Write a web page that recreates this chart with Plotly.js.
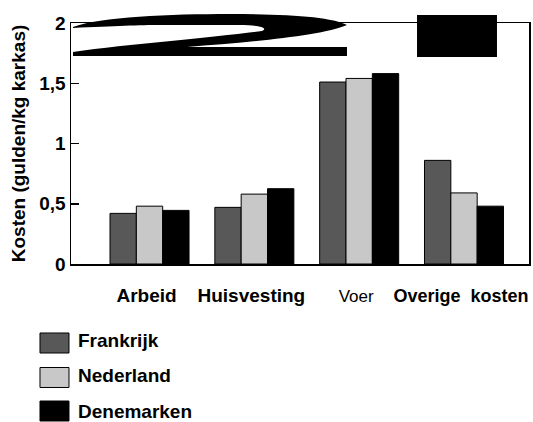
<!DOCTYPE html>
<html>
<head>
<meta charset="utf-8">
<script src="https://cdn.plot.ly/plotly-3.0.1.min.js"></script>
<style>html,body{margin:0;padding:0;background:#fff;}</style>
</head>
<body>
<div id="chart" style="width:533px;height:422px;"></div>
<script>
// ---- data ----
var categories = ['Arbeid', 'Huisvesting', 'Voer', 'Overige kosten'];
var tickLabels = ['<b>Arbeid</b>', '<b>Huisvesting</b>', '<span style="font-size:17px">Voer</span>', '<b><span style="font-size:18px">Overige\u00a0 kosten</span></b>'];
var seriesNames = ['Frankrijk', 'Nederland', 'Denemarken'];
var frankrijk = [0.42, 0.47, 1.51, 0.86];
var nederland = [0.48, 0.58, 1.54, 0.59];
var denemarken = [0.445, 0.625, 1.58, 0.48];
var yTicks = [0, 0.5, 1, 1.5, 2];

var colors = ['#585858', '#c8c8c8', '#000000'];
var FONT = 'Liberation Sans, Arial, sans-serif';

var W = 533, H = 422, ML = 71, MR = 4, MT = 23, MB = 158;
var PW = W - ML - MR, PH = H - MT - MB;
function px(x) { return +((x - ML) / PW).toFixed(4); }
function py(y) { return +((H - MB - y) / PH).toFixed(4); }
// convert a path written in page pixels into paper coordinates
function pathPx(cmds) {
  return cmds.map(function (c) {
    var s = c[0];
    for (var i = 1; i < c.length; i += 2) s += (i > 1 ? ' ' : '') + px(c[i]) + ',' + py(c[i + 1]);
    return s;
  }).join(' ');
}

var seriesVals = [frankrijk, nederland, denemarken];
var data = seriesVals.map(function (vals, i) {
  return {
    type: 'bar', x: categories, y: vals, name: seriesNames[i],
    marker: { color: colors[i], line: { width: 1, color: '#000' } },
    showlegend: false
  };
});
// legend entries (no bars of their own; on a hidden overlay axis pair)
seriesNames.forEach(function (nm, i) {
  data.push({
    type: 'bar', x: [categories[0]], y: [null], name: nm, xaxis: 'x2', yaxis: 'y2',
    marker: { color: colors[i], line: { width: 0 } },
    legendgroup: 'g' + i, showlegend: true, hoverinfo: 'skip'
  });
});

var blob2 = pathPx([
  ['M', 73, 27],
  ['C', 100, 17, 170, 14, 230, 14],
  ['C', 290, 14, 332, 17, 347, 25],
  ['C', 322, 36, 250, 42, 187, 47],
  ['L', 347, 47], ['L', 347, 56], ['L', 73, 56], ['L', 73, 52],
  ['C', 130, 44, 220, 37, 262, 31],
  ['C', 270, 27, 255, 25, 240, 25],
  ['L', 160, 25],
  ['C', 140, 25, 115, 26, 73, 28],
  ['Z']
]);

var shapes = [
  { type: 'path', xref: 'paper', yref: 'paper', path: blob2, fillcolor: '#000', line: { width: 0 } },
  { type: 'rect', xref: 'paper', yref: 'paper', x0: px(417), x1: px(497), y0: py(57), y1: py(15), fillcolor: '#000', line: { width: 0 } }
];
// enlarged legend swatches behind the legend symbols
var swatchCY = [343, 377.5, 411];
swatchCY.forEach(function (cy, i) {
  shapes.push({ type: 'rect', xref: 'paper', yref: 'paper', x0: px(40), x1: px(69), y0: py(cy + 10), y1: py(cy - 10),
    fillcolor: colors[i], line: { width: 1, color: '#000' } });
});

var layout = {
  width: W, height: H,
  margin: { l: ML, r: MR, t: MT, b: MB, autoexpand: false },
  paper_bgcolor: '#fff', plot_bgcolor: '#fff',
  separators: ',.',
  font: { family: FONT, color: '#000', size: 19 },
  barmode: 'group', bargap: 0.246, bargroupgap: 0,
  showlegend: true,
  legend: {
    x: px(27), y: py(321), xanchor: 'left', yanchor: 'top',
    traceorder: 'grouped', tracegroupgap: 7.5, itemwidth: 41,
    font: { family: FONT, size: 19, weight: 'bold', color: '#000' },
    bgcolor: 'rgba(0,0,0,0)'
  },
  xaxis: {
    type: 'category', range: [-0.749, 3.62],
    tickmode: 'array', tickvals: categories, ticktext: tickLabels, tickangle: 0,
    ticks: '', showgrid: false, zeroline: false,
    showline: true, linecolor: '#000', linewidth: 1.5, mirror: true,
    tickfont: { family: FONT, size: 19, color: '#000' },
    ticklabelstandoff: 14, ticklabelshift: -3, ticklabeloverflow: 'allow'
  },
  yaxis: {
    range: [0, 2], tickmode: 'array', tickvals: yTicks,
    ticks: 'inside', ticklen: 8, tickwidth: 1.5, tickcolor: '#000',
    showgrid: false, zeroline: false,
    showline: true, linecolor: '#000', linewidth: 1.5, mirror: true,
    tickfont: { family: FONT, size: 19, weight: 'bold', color: '#000' },
    title: { text: 'Kosten (gulden/kg karkas)', font: { family: FONT, size: 19, weight: 'bold', color: '#000' }, standoff: 8 }
  },
  xaxis2: { type: 'category', overlaying: 'x', anchor: 'y2', visible: false, range: [-0.749, 3.62] },
  yaxis2: { overlaying: 'y', anchor: 'x2', visible: false, range: [0, 2] },
  shapes: shapes
};

Plotly.newPlot('chart', data, layout, { displayModeBar: false, staticPlot: true });
</script>
</body>
</html>
